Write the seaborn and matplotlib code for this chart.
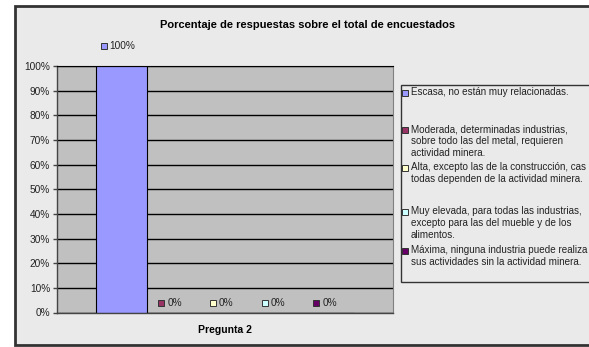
import matplotlib
matplotlib.use("Agg")
import matplotlib.pyplot as plt
import matplotlib.transforms as mtransforms
from matplotlib.patches import Rectangle
from matplotlib.lines import Line2D
import pandas as pd
import seaborn as sns

# Data (legend texts as far as they are visible)
preguntas = ["Pregunta 2"]
respuestas = [
    "Escasa, no están muy relacionadas.",
    "Moderada, determinadas industrias,\nsobre todo las del metal, requieren\nactividad minera.",
    "Alta, excepto las de la construcción, cas\ntodas dependen de la actividad minera.",
    "Muy elevada, para todas las industrias,\nexcepto para las del mueble y de los\nalimentos.",
    "Máxima, ninguna industria puede realiza\nsus actividades sin la actividad minera.",
]
porcentajes = [100, 0, 0, 0, 0]
colores = ["#9999FF", "#993366", "#FFFFCC", "#CCFFFF", "#660066"]
yticks = [0, 10, 20, 30, 40, 50, 60, 70, 80, 90, 100]

plt.rcParams['font.family'] = ['Liberation Sans', 'DejaVu Sans']

W, H = 589, 347
fig = plt.figure(figsize=(W / 100, H / 100), dpi=100)
fig.patch.set_facecolor("white")


# Converts pixel positions (from the top-left) into figure fractions
def fx(x):
    return x / W


def fy(y):
    return 1 - y / H


# Outer chart frame
fig.patches.append(Rectangle((fx(15), fy(345)), fx(600) - fx(15), fy(6) - fy(345),
                             transform=fig.transFigure, facecolor="#EAEAEA",
                             edgecolor="#333333", linewidth=2, zorder=0))

ax = fig.add_axes([fx(57), fy(312.5), fx(393) - fx(57), fy(66) - fy(312.5)])
ax.set_zorder(3)
ax.set_facecolor("#C0C0C0")

df = pd.DataFrame({
    "pregunta": preguntas * len(respuestas),
    "respuesta": respuestas,
    "valor": porcentajes,
})

sns.barplot(data=df, x="pregunta", y="valor", hue="respuesta", hue_order=respuestas,
            palette=colores, saturation=1, width=0.77, gap=0, edgecolor="black",
            linewidth=0.8, legend=False, ax=ax)

ax.set_xlim(-0.5, 0.5)
ax.set_ylim(0, 100)
ax.set_yticks(yticks)
ax.set_yticklabels([f"{v}%" for v in yticks])
ax.yaxis.grid(True, color="black", linewidth=1)
ax.xaxis.grid(False)
ax.set_axisbelow(True)
ax.set_xlabel("")
ax.set_ylabel("")
ax.tick_params(axis="y", length=3, width=1, color="#444444", labelsize=7.3, pad=2, labelcolor="#222222")
ax.tick_params(axis="x", length=0, labelsize=7.5, pad=9)
for lbl in ax.get_xticklabels():
    lbl.set_fontweight("bold")
for side in ["left", "bottom"]:
    ax.spines[side].set_color("#444444")
    ax.spines[side].set_linewidth(1)
ax.spines["right"].set_color("#808080")
ax.spines["top"].set_color("black")

# Data labels with a small colour key in front of them
for cont, col in zip(ax.containers, colores):
    for bar in cont:
        h = bar.get_height()
        xc = bar.get_x() + bar.get_width() / 2
        label = f"{h:.0f}%"
        dy = 20 if h > 0 else 10
        dx = -(len(label) * 3 + 6)
        trans = mtransforms.offset_copy(ax.transData, fig=fig, x=dx, y=dy, units="dots")
        ax.plot([xc], [h], marker="s", markersize=4.2, markerfacecolor=col,
                markeredgecolor="#333333", markeredgewidth=0.7, transform=trans, clip_on=False)
        ax.annotate(label, (xc, h), xytext=(dx + 6, dy), textcoords="offset pixels",
                    ha="left", va="center", fontsize=7.3, color="#222222", annotation_clip=False)

# Title
fig.text(fx(308), fy(25), "Porcentaje de respuestas sobre el total de encuestados",
         ha="center", va="center", fontsize=8, fontweight="bold")

# Legend box drawn by hand (it runs off the right edge as in the original)
fig.patches.append(Rectangle((fx(400.5), fy(282)), fx(620) - fx(400.5), fy(85) - fy(282),
                             transform=fig.transFigure, facecolor="#EAEAEA",
                             edgecolor="#333333", linewidth=1, zorder=1))
legend_y = [93, 130, 168, 212, 251]
for txt, col, y in zip(respuestas, colores, legend_y):
    fig.add_artist(Line2D([fx(404.5)], [fy(y)], marker="s", markersize=4.2,
                          markerfacecolor=col, markeredgecolor="#333333",
                          markeredgewidth=0.7, transform=fig.transFigure))
    fig.text(fx(411), fy(y - 6), txt, ha="left", va="top", fontsize=7.15,
             linespacing=1.23, color="#222222")

plt.savefig("out.png", dpi=100)
